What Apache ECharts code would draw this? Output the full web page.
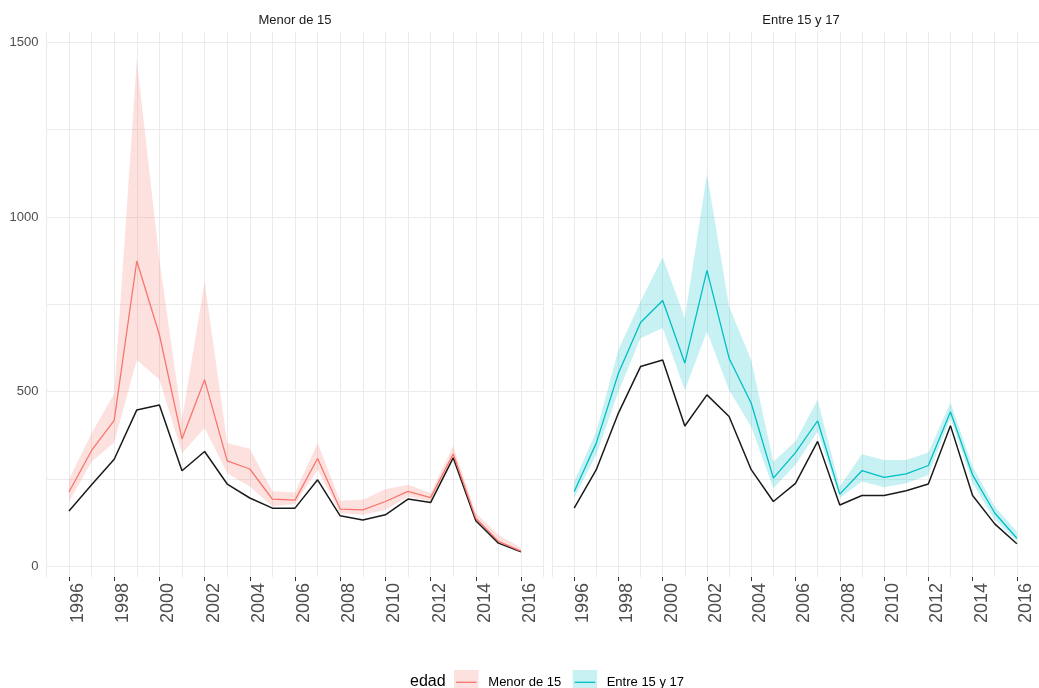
<!DOCTYPE html>
<html>
<head>
<meta charset="utf-8">
<script src="https://cdn.jsdelivr.net/npm/echarts@6/dist/echarts.min.js"></script>
<style>
  html, body { margin: 0; padding: 0; background: #ffffff; }
  #chart { width: 1039px; height: 688px; }
</style>
</head>
<body>
<div id="chart"></div>
<script>
// Años observados
const anios = [1996, 1997, 1998, 1999, 2000, 2001, 2002, 2003, 2004, 2005, 2006,
               2007, 2008, 2009, 2010, 2011, 2012, 2013, 2014, 2015, 2016];

// Grupos de edad (facetas)
const grupos = ['Menor de 15', 'Entre 15 y 17'];

// Menor de 15: estimación, intervalo y serie de referencia
const menorEstimado = [213, 332, 418, 874, 663, 365, 534, 302, 279, 193, 190,
                       309, 164, 162, 186, 215, 197, 322, 138, 72, 44];
const menorInferior = [185, 300, 355, 591, 535, 324, 396, 267, 229, 172, 179,
                       277, 153, 148, 162, 200, 186, 315, 132, 67, 41];
const menorSuperior = [250, 381, 495, 1449, 877, 420, 815, 353, 337, 215, 212,
                       353, 188, 191, 221, 234, 210, 345, 153, 91, 53];
const menorReferencia = [159, 234, 307, 448, 462, 274, 329, 236, 196, 167, 167,
                         248, 145, 133, 148, 193, 183, 311, 131, 67, 42];

// Entre 15 y 17: estimación, intervalo y serie de referencia
const entreEstimado = [214, 353, 553, 698, 761, 582, 847, 596, 467, 253, 326,
                       417, 207, 274, 255, 265, 289, 443, 262, 153, 81];
const entreInferior = [196, 320, 500, 653, 682, 505, 672, 505, 400, 224, 291,
                       386, 196, 243, 227, 238, 262, 424, 238, 134, 72];
const entreSuperior = [243, 386, 620, 758, 885, 710, 1123, 744, 590, 300, 358,
                       477, 229, 321, 305, 305, 326, 469, 286, 172, 100];
const entreReferencia = [167, 277, 439, 572, 591, 402, 491, 429, 277, 186, 238,
                         358, 176, 203, 203, 217, 236, 403, 203, 122, 65];

// Marcas de los ejes
const xEtiquetas = [1996, 1998, 2000, 2002, 2004, 2006, 2008, 2010, 2012, 2014, 2016];
const yLineas = [0, 250, 500, 750, 1000, 1250, 1500];
const yEtiquetas = [0, 500, 1000, 1500];

const colores = ['#F8766D', '#00BFC4'];
const rellenos = ['rgba(248,118,109,0.22)', 'rgba(0,191,196,0.22)'];
const FUENTE = '"Liberation Sans", Arial, Helvetica, sans-serif';

const paneles = [
  { est: menorEstimado, inf: menorInferior, sup: menorSuperior, ref: menorReferencia },
  { est: entreEstimado, inf: entreInferior, sup: entreSuperior, ref: entreReferencia }
];

const pares = (ys) => anios.map((a, i) => [a, ys[i]]);

const grids = [
  { left: 46.4, right: 495.4, top: 31.7, bottom: 111 },
  { left: 552, right: -11, top: 31.7, bottom: 111 }
];

const xAxes = [];
const yAxes = [];
grids.forEach((g, gi) => {
  // rejilla vertical anual
  xAxes.push({
    type: 'value', gridIndex: gi, min: 1995, max: 2017, interval: 1,
    axisLine: { show: false }, axisTick: { show: false }, axisLabel: { show: false },
    splitLine: { show: true, lineStyle: { color: '#ebebeb', width: 1 } }
  });
  // marcas y etiquetas de años pares
  xAxes.push({
    type: 'value', gridIndex: gi, min: 1995, max: 2017, position: 'bottom',
    axisLine: { show: false },
    axisTick: { show: true, customValues: xEtiquetas, length: 4,
                lineStyle: { color: '#333333', width: 1 } },
    axisLabel: { show: true, customValues: xEtiquetas, rotate: 90, verticalAlign: 'top',
                 margin: 6, fontSize: 18, color: '#4d4d4d', fontFamily: FUENTE,
                 formatter: (v) => String(v) },
    splitLine: { show: false }
  });
  yAxes.push({
    type: 'value', gridIndex: gi, min: -30, max: 1530,
    axisLine: { show: false },
    axisTick: { show: false, customValues: yLineas },
    axisLabel: { show: gi === 0, customValues: yEtiquetas, margin: 8, fontSize: 13,
                 color: '#4d4d4d', fontFamily: FUENTE, formatter: (v) => String(v) },
    splitLine: { show: true, lineStyle: { color: '#ebebeb', width: 1 } }
  });
});

// banda del intervalo: un polígono entre el límite inferior y el superior
function bandaRender(p, pi) {
  return function (params, api) {
    if (params.dataIndex !== 0) return null;
    const arriba = anios.map((a, i) => api.coord([a, p.sup[i]]));
    const abajo = anios.map((a, i) => api.coord([a, p.inf[i]])).reverse();
    return {
      type: 'polygon',
      shape: { points: arriba.concat(abajo) },
      style: { fill: rellenos[pi], stroke: 'none' },
      silent: true
    };
  };
}

const series = [];
paneles.forEach((p, pi) => {
  const xi = pi * 2;
  series.push({
    type: 'custom', xAxisIndex: xi, yAxisIndex: pi,
    data: anios.map((a, i) => [a, p.inf[i], p.sup[i]]),
    encode: { x: 0, y: [1, 2] },
    renderItem: bandaRender(p, pi), silent: true, z: 1
  });
  series.push({
    type: 'line', xAxisIndex: xi, yAxisIndex: pi, data: pares(p.ref),
    symbol: 'none', silent: true,
    lineStyle: { color: '#1a1a1a', width: 1.5 }, z: 2
  });
  series.push({
    name: grupos[pi], type: 'line', xAxisIndex: xi, yAxisIndex: pi, data: pares(p.est),
    symbol: 'none', silent: true,
    lineStyle: { color: colores[pi], width: 1.3 }, z: 3
  });
});

// títulos de faceta
const graficos = [
  { type: 'text', x: 295, y: 20, style: { text: grupos[0], fill: '#1a1a1a', fontSize: 13,
    fontFamily: FUENTE, align: 'center', verticalAlign: 'middle' } },
  { type: 'text', x: 801, y: 20, style: { text: grupos[1], fill: '#1a1a1a', fontSize: 13,
    fontFamily: FUENTE, align: 'center', verticalAlign: 'middle' } },
  // leyenda
  { type: 'text', x: 410, y: 682, style: { text: 'edad', fill: '#000000', fontSize: 16,
    fontFamily: FUENTE, align: 'left', verticalAlign: 'middle' } }
];
const clavesX = [454, 572.7];
const textosX = [488.3, 606.7];
grupos.forEach((nombre, i) => {
  graficos.push({ type: 'rect', shape: { x: clavesX[i], y: 670, width: 24.5, height: 24.5 },
                  style: { fill: rellenos[i] } });
  graficos.push({ type: 'line', shape: { x1: clavesX[i] + 2, y1: 682.3, x2: clavesX[i] + 22.5, y2: 682.3 },
                  style: { stroke: colores[i], lineWidth: 1.3 } });
  graficos.push({ type: 'text', x: textosX[i], y: 682, style: { text: nombre, fill: '#000000',
                  fontSize: 13, fontFamily: FUENTE, align: 'left', verticalAlign: 'middle' } });
});

const chart = echarts.init(document.getElementById('chart'), null, { renderer: 'canvas' });
chart.setOption({
  animation: false,
  backgroundColor: '#ffffff',
  grid: grids,
  xAxis: xAxes,
  yAxis: yAxes,
  series: series,
  graphic: graficos
});
</script>
</body>
</html>
